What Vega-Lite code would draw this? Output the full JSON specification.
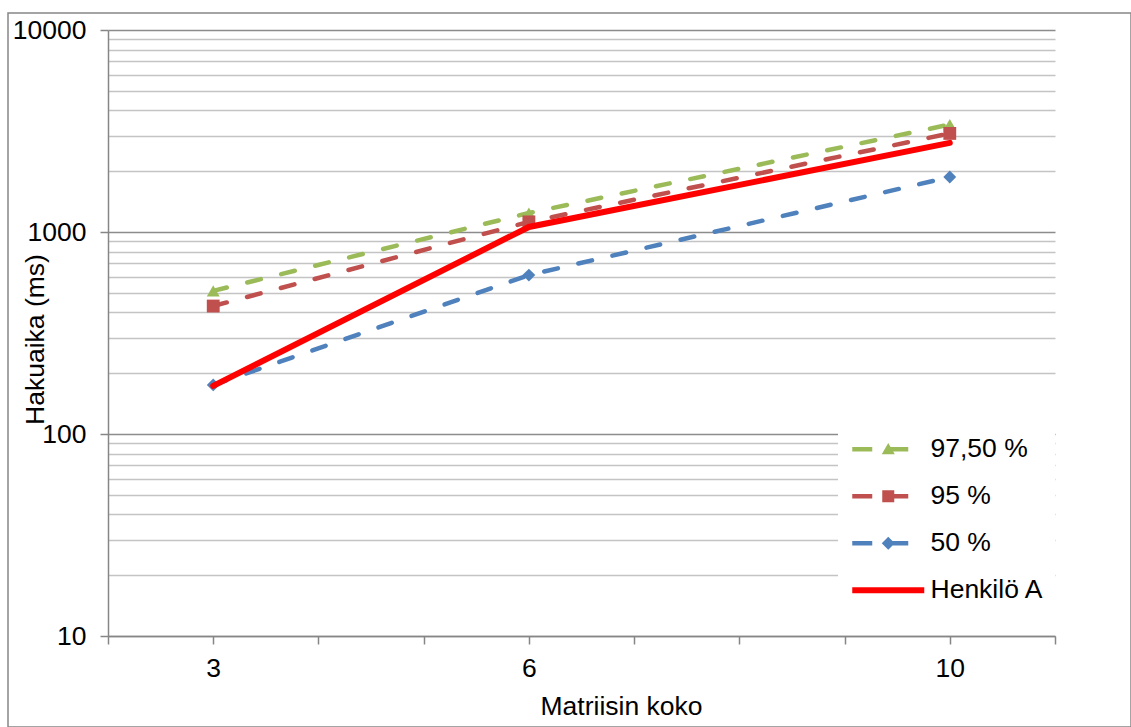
{
  "$schema": "https://vega.github.io/schema/vega-lite/v6.json",
  "autosize": {"type": "none"},
  "padding": {"left": 8, "top": 13, "right": 0, "bottom": 0},
  "width": 1123,
  "height": 714,
  "background": "white",
  "config": {
    "view": {"stroke": "#868686", "strokeWidth": 1.5},
    "font": "Liberation Sans"
  },
  "data": {
    "values": [
      {"sarja": "97,50 %", "koko": 3, "aika": 511},
      {"sarja": "97,50 %", "koko": 6, "aika": 1242},
      {"sarja": "97,50 %", "koko": 10, "aika": 3404},
      {"sarja": "95 %", "koko": 3, "aika": 430},
      {"sarja": "95 %", "koko": 6, "aika": 1122},
      {"sarja": "95 %", "koko": 10, "aika": 3076},
      {"sarja": "50 %", "koko": 3, "aika": 175},
      {"sarja": "50 %", "koko": 6, "aika": 612},
      {"sarja": "50 %", "koko": 10, "aika": 1871},
      {"sarja": "Henkilö A", "koko": 3, "aika": 173},
      {"sarja": "Henkilö A", "koko": 6, "aika": 1059},
      {"sarja": "Henkilö A", "koko": 10, "aika": 2762}
    ]
  },
  "encoding": {
    "x": {
      "field": "koko",
      "type": "quantitative",
      "scale": {"domain": [2, 11], "range": [100, 1047], "nice": false, "zero": false},
      "axis": {
        "offset": -91,
        "values": [2, 3, 4, 5, 6, 7, 8, 9, 10, 11],
        "labelExpr": "indexof([3, 6, 10], datum.value) >= 0 ? '' + datum.value : ''",
        "grid": false,
        "domainColor": "#868686",
        "domainWidth": 1.5,
        "tickColor": "#868686",
        "tickWidth": 1.5,
        "tickSize": 8,
        "labelFont": "Liberation Sans",
        "labelFontSize": 26.5,
        "labelColor": "black",
        "labelBaseline": "alphabetic",
        "labelPadding": 32,
        "labelFlush": false,
        "labelOverlap": false,
        "title": "Matriisin koko",
        "titleFont": "Liberation Sans",
        "titleFontSize": 26.5,
        "titleFontWeight": "normal",
        "titleColor": "black",
        "titleBaseline": "alphabetic",
        "titleAnchor": null,
        "titleX": 613,
        "titleY": 78
      }
    },
    "y": {
      "field": "aika",
      "type": "quantitative",
      "scale": {"type": "log", "domain": [10, 10000], "range": [623, 17], "nice": false},
      "axis": {
        "offset": -100,
        "values": [10, 20, 30, 40, 50, 60, 70, 80, 90, 100, 200, 300, 400, 500, 600, 700, 800, 900, 1000, 2000, 3000, 4000, 5000, 6000, 7000, 8000, 9000, 10000],
        "labelExpr": "indexof([10, 100, 1000, 10000], datum.value) >= 0 ? '' + datum.value : ''",
        "grid": true,
        "gridColor": {"condition": {"test": "indexof([10, 100, 1000, 10000], datum.value) >= 0", "value": "#8c8c8c"}, "value": "#c4c4c4"},
        "gridWidth": 1.5,
        "domainColor": "#868686",
        "domainWidth": 1.5,
        "tickColor": "#868686",
        "tickWidth": 1.5,
        "tickSize": 8,
        "tickOpacity": {"condition": {"test": "indexof([10, 100, 1000, 10000], datum.value) >= 0", "value": 1}, "value": 0},
        "labelFont": "Liberation Sans",
        "labelFontSize": 26.5,
        "labelColor": "black",
        "labelBaseline": "middle",
        "labelPadding": 14,
        "labelFlush": false,
        "labelOverlap": false,
        "title": "Hakuaika (ms)",
        "titleFont": "Liberation Sans",
        "titleFontSize": 26.5,
        "titleFontWeight": "normal",
        "titleColor": "black",
        "titleAngle": -90,
        "titleAlign": "center",
        "titleBaseline": "alphabetic",
        "titleAnchor": null,
        "titleX": -65,
        "titleY": 326
      }
    }
  },
  "layer": [
    {
      "transform": [{"filter": "datum.sarja !== 'Henkilö A'"}],
      "mark": {"type": "line", "strokeWidth": 4.5, "strokeDash": [14, 21], "strokeCap": "round"},
      "encoding": {
        "color": {
          "field": "sarja",
          "type": "nominal",
          "scale": {
            "domain": ["97,50 %", "95 %", "50 %", "Henkilö A"],
            "range": ["#9BBB59", "#C0504D", "#4F81BD", "#FF0000"]
          },
          "legend": {
            "orient": "none",
            "legendX": 830,
            "legendY": 412,
            "title": null,
            "padding": 11,
            "fillColor": "white",
            "strokeColor": null,
            "labelFont": "Liberation Sans",
            "labelFontSize": 26.5,
            "labelColor": "black",
            "labelOffset": 55,
            "rowPadding": 20,
            "symbolSize": 400,
            "symbolStrokeWidth": 0,
            "encode": {
              "symbols": {
                "update": {
                  "shape": {"signal": "datum.value === 'Henkilö A' ? 'M-1,-0.3H6.2V0.3H-1Z' : datum.value === '50 %' ? 'M-1,-0.22H1V0.22H-1Z M2.6,-0.22H4.6V0.22H2.6Z M2.6,-0.65L3.25,0L2.6,0.65L1.95,0Z' : datum.value === '95 %' ? 'M-1,-0.22H1V0.22H-1Z M2.6,-0.22H4.6V0.22H2.6Z M2,-0.6H3.2V0.6H2Z' : 'M-1,-0.22H1V0.22H-1Z M2.6,-0.22H4.6V0.22H2.6Z M2.6,-0.62L3.25,0.5H1.95Z'"},
                  "fill": {"scale": "color", "field": "value"},
                  "stroke": {"value": "transparent"},
                  "strokeWidth": {"value": 0},
                  "opacity": {"value": 1}
                }
              }
            }
          }
        }
      }
    },
    {
      "transform": [{"filter": "datum.sarja !== 'Henkilö A'"}],
      "mark": {"type": "point", "filled": true, "opacity": 1, "size": 165},
      "encoding": {
        "color": {
          "field": "sarja",
          "type": "nominal",
          "scale": {
            "domain": ["97,50 %", "95 %", "50 %", "Henkilö A"],
            "range": ["#9BBB59", "#C0504D", "#4F81BD", "#FF0000"]
          },
          "legend": null
        },
        "shape": {
          "field": "sarja",
          "type": "nominal",
          "scale": {"domain": ["97,50 %", "95 %", "50 %"], "range": ["triangle-up", "square", "diamond"]},
          "legend": null
        }
      }
    },
    {
      "transform": [{"filter": "datum.sarja === 'Henkilö A'"}],
      "mark": {"type": "line", "strokeWidth": 6, "strokeCap": "round"},
      "encoding": {
        "color": {
          "field": "sarja",
          "type": "nominal",
          "scale": {
            "domain": ["97,50 %", "95 %", "50 %", "Henkilö A"],
            "range": ["#9BBB59", "#C0504D", "#4F81BD", "#FF0000"]
          },
          "legend": null
        }
      }
    }
  ]
}
